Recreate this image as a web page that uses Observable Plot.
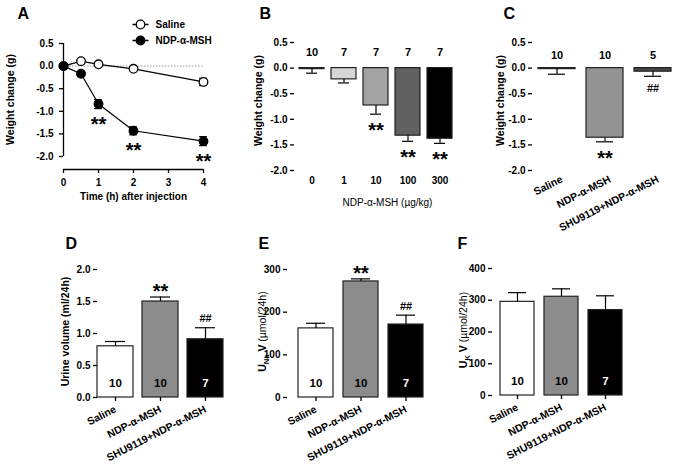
<!DOCTYPE html>
<html><head><meta charset="utf-8">
<script src="https://cdn.jsdelivr.net/npm/d3@7"></script>
<script src="https://cdn.jsdelivr.net/npm/@observablehq/plot@0.6"></script>
<style>
body{margin:0;background:white;}
#fig{position:relative;width:683px;height:474px;overflow:hidden;background:white;}
#fig svg{position:absolute;}
</style></head><body><div id="fig"></div>
<script>
// ---------- Panel A: time course ----------
const timeH = [0, 0.5, 1, 2, 4];
const salineMean = [0, 0.11, 0.04, -0.06, -0.35];
const salineSem = [0.02, 0.02, 0.02, 0.02, 0.08];
const ndpMean = [0, -0.17, -0.84, -1.43, -1.66];
const ndpSem = [0.02, 0.03, 0.10, 0.09, 0.10];
const sigA = ["", "", "**", "**", "**"];
const legendA = ["Saline", "NDP-α-MSH"];
const xTicksA = [0, 1, 2, 3, 4];
const yTicksWeight = [-2, -1.5, -1, -0.5, 0, 0.5];

// ---------- Panel B: dose response ----------
const doseLabels = ["0", "1", "10", "100", "300"];
const doseMean = [-0.02, -0.22, -0.73, -1.32, -1.38];
const doseSem = [0.08, 0.07, 0.17, 0.11, 0.09];
const doseN = [10, 7, 7, 7, 7];
const sigB = ["", "", "**", "**", "**"];

// ---------- Panels C-F: groups ----------
const groups = ["Saline", "NDP-α-MSH", "SHU9119+NDP-α-MSH"];
const weightMeanC = [-0.02, -1.36, -0.07];
const weightSemC = [0.10, 0.08, 0.09];
const nC = [10, 10, 5];
const sigC = ["", "**", "##"];
const urineMean = [0.80, 1.50, 0.91];
const urineSem = [0.075, 0.07, 0.18];
const naMean = [162, 272, 171];
const naSem = [12, 6, 22];
const kMean = [295, 311, 269];
const kSem = [29, 25, 45];
const nDEF = [10, 10, 7];
const sigD = ["", "**", "##"];
const sigE = ["", "**", "##"];
const sigF = ["", "", ""];
const yTicksUrine = [0, 0.5, 1, 1.5, 2];
const yTicksNa = [0, 100, 200, 300];
const yTicksK = [0, 100, 200, 300, 400];

// ---------- styling ----------
const doseFills = ["white", "#d6d6d6", "#a3a3a3", "#616161", "black"];
const fillsC = ["white", "#939393", "#474747"];
const fillsDEF = ["white", "#8c8c8c", "black"];
const FONT = "'Liberation Sans', Arial, Helvetica, sans-serif";
const fig = document.getElementById("fig");

function subscripts(svg) {
  d3.select(svg).selectAll("text").each(function () {
    const m = this.textContent.match(/^(.*?)_\{(.*?)\}([^(]*)(\(.*\))?$/);
    if (!m) return;
    const s = d3.select(this); s.text(null);
    s.append("tspan").text(m[1]);
    s.append("tspan").attr("dy", 3).attr("font-size", 7.5).text(m[2]);
    s.append("tspan").attr("dy", -3).text(m[3]);
    if (m[4]) s.append("tspan").attr("font-weight", "normal").text(m[4]);
  });
}
function panel({box, frame, x, y, marks}) {
  const [bx, by, bw, bh] = box, [fl, fr, ft, fb] = frame;
  const svg = Plot.plot({
    width: bw, height: bh,
    marginLeft: fl - bx, marginRight: bx + bw - fr, marginTop: ft - by, marginBottom: by + bh - fb,
    x, y, marks,
    style: {background: "transparent", fontFamily: FONT, fontSize: "10px", fontWeight: "bold", color: "black", overflow: "visible"}
  });
  svg.style.left = bx + "px"; svg.style.top = by + "px";
  subscripts(svg);
  fig.appendChild(svg);
}
// a free-standing label at an absolute page position (converted to a frame offset)
const at = (frame, ax, ay) => ({frameAnchor: "top-left", dx: ax - frame[0], dy: ay - frame[2]});
const label = (frame, ax, ay, str, opts = {}) =>
  Plot.text([str], {...at(frame, ax, ay), text: d => d, textAnchor: "middle", lineAnchor: "middle", ...opts});
const fmt1 = d => d.toFixed(1);
const textColor = f => d3.hsl(f).l < 0.3 ? "white" : "black";

// ===== Panel A =====
{
  const frame = [63, 203, 43, 169];
  const yMin = yTicksWeight[0], yMax = yTicksWeight.at(-1);
  const yLow = yMin - 13 * (yMax - yMin) / (156 - 43); // x axis sits below -2.0
  const seriesA = timeH.flatMap((t, i) => [
    {group: legendA[0], t, mean: salineMean[i], sem: salineSem[i], sig: ""},
    {group: legendA[1], t, mean: ndpMean[i], sem: ndpSem[i], sig: sigA[i]}
  ]);
  const capW = 0.11;
  const legendSymbol = {draw(ctx, size) {
    const r = Math.sqrt(size / Math.PI);
    ctx.moveTo(-8, 0); ctx.lineTo(-r, 0); ctx.moveTo(r, 0); ctx.lineTo(8, 0);
    ctx.moveTo(r, 0); ctx.arc(0, 0, r, 0, 2 * Math.PI);
  }};
  const fillOf = g => g === legendA[0] ? "white" : "black";
  panel({
    box: [0, 0, 225, 228], frame,
    x: {domain: [xTicksA[0], xTicksA.at(-1)], axis: null},
    y: {domain: [yLow, yMax], axis: null},
    marks: [
      Plot.ruleY([0], {x1: xTicksA[0], x2: xTicksA.at(-1), stroke: "#999", strokeDasharray: "1.5,1.5"}),
      Plot.ruleX([xTicksA[0]], {y1: yMin, y2: yMax, strokeWidth: 1.3}),
      Plot.ruleY([yLow], {x1: xTicksA[0], x2: xTicksA.at(-1), strokeWidth: 1.3}),
      Plot.axisY(yTicksWeight, {tickFormat: fmt1, tickSize: 4, tickPadding: 6, label: null, strokeWidth: 1.3}),
      Plot.ruleX(xTicksA, {x: d => d, y1: yLow, y2: yLow, insetBottom: -4, strokeWidth: 1.3}),
      Plot.text(xTicksA, {x: d => d, y: () => yLow, text: d => `${d}`, lineAnchor: "top", dy: 9}),
      Plot.line(seriesA, {x: "t", y: "mean", z: "group", stroke: "black", strokeWidth: 1.2}),
      Plot.ruleX(seriesA, {x: "t", y1: d => d.mean - d.sem, y2: d => d.mean + d.sem, strokeWidth: 1.2}),
      Plot.ruleY(seriesA, {y: d => d.mean - d.sem, x1: d => d.t - capW, x2: d => d.t + capW, strokeWidth: 1.2}),
      Plot.ruleY(seriesA, {y: d => d.mean + d.sem, x1: d => d.t - capW, x2: d => d.t + capW, strokeWidth: 1.2}),
      Plot.dot(seriesA, {x: "t", y: "mean", r: 4.3, fill: d => fillOf(d.group), stroke: "black", strokeWidth: 1.3}),
      Plot.text(seriesA, {x: "t", y: d => d.mean - d.sem, text: "sig", fontSize: 20, lineAnchor: "middle", dy: 16}),
      ...legendA.flatMap((name, i) => [
        Plot.dot([name], {...at(frame, 140, 24 + 16 * i), symbol: legendSymbol, r: 4.3, fill: fillOf(name), stroke: "black", strokeWidth: 1.3}),
        label(frame, 155, 24 + 16 * i, name, {textAnchor: "start"})
      ]),
      label(frame, 17, 13, "A", {textAnchor: "start", fontSize: 16}),
      label(frame, 10, 99, "Weight change (g)", {rotate: -90, fontSize: 10.5}),
      label(frame, 133, 196, "Time (h) after injection")
    ]
  });
}

// ===== Panel B =====
{
  const frame = [294, 457, 42, 170];
  const yMax = yTicksWeight.at(-1);
  const dataB = doseLabels.map((dose, i) => ({dose, mean: doseMean[i], sem: doseSem[i], n: doseN[i], sig: sigB[i], fill: doseFills[i]}));
  panel({
    box: [225, 0, 235, 228], frame,
    x: {domain: doseLabels, paddingInner: 0.207, paddingOuter: 0.088},
    y: {domain: [yTicksWeight[0], yMax]},
    marks: [
      Plot.barY(dataB, {x: "dose", y: "mean", fill: d => d.fill, stroke: "#222", strokeWidth: 1.2}),
      Plot.ruleX(dataB, {x: "dose", y1: "mean", y2: d => d.mean - d.sem, strokeWidth: 1.2}),
      Plot.tickY(dataB, {x: "dose", y: d => d.mean - d.sem, insetLeft: 7, insetRight: 7, strokeWidth: 1.2}),
      Plot.axisY(yTicksWeight, {tickFormat: fmt1, tickSize: 4, tickPadding: 3, label: null, line: true, strokeWidth: 1.3}),
      Plot.axisX({tickSize: 0, tickPadding: 6, label: null}),
      Plot.text(dataB, {x: "dose", y: () => yMax, text: d => String(d.n), lineAnchor: "middle", dy: 10, fontSize: 11}),
      Plot.text(dataB, {x: "dose", y: d => d.mean - d.sem, text: "sig", fontSize: 20, lineAnchor: "middle", dy: 16}),
      label(frame, 259, 13, "B", {textAnchor: "start", fontSize: 16}),
      label(frame, 258, 100, "Weight change (g)", {rotate: -90, fontSize: 10.5}),
      label(frame, 387, 202, "NDP-α-MSH (µg/kg)", {fontWeight: "normal"})
    ]
  });
}

// ===== Panel C =====
{
  const frame = [532, 677, 42, 170];
  const yMax = yTicksWeight.at(-1);
  const dataC = groups.map((g, i) => ({g, mean: weightMeanC[i], sem: weightSemC[i], n: nC[i], sig: sigC[i], fill: fillsC[i]}));
  panel({
    box: [460, 0, 223, 232], frame,
    x: {domain: groups, paddingInner: 0.23, paddingOuter: 0.105},
    y: {domain: [yTicksWeight[0], yMax]},
    marks: [
      Plot.barY(dataC, {x: "g", y: "mean", fill: d => d.fill, stroke: "#222", strokeWidth: 1.2}),
      Plot.ruleX(dataC, {x: "g", y1: "mean", y2: d => d.mean - d.sem, strokeWidth: 1.2}),
      Plot.tickY(dataC, {x: "g", y: d => d.mean - d.sem, insetLeft: 10, insetRight: 10, strokeWidth: 1.2}),
      Plot.axisY(yTicksWeight, {tickFormat: fmt1, tickSize: 4, tickPadding: 3, label: null, line: true, strokeWidth: 1.3}),
      Plot.axisX({tickSize: 0, tickPadding: 8, tickRotate: -27, label: null, fontSize: 10.5, dx: 5}),
      Plot.text(dataC, {x: "g", y: () => yMax, text: d => String(d.n), lineAnchor: "middle", dy: 13, fontSize: 11}),
      Plot.text(dataC, {x: "g", y: d => d.mean - d.sem, text: "sig", fontSize: 20, lineAnchor: "middle", filter: d => d.sig === "**", dy: 17}),
      Plot.text(dataC, {x: "g", y: d => d.mean - d.sem, text: "sig", fontSize: 11, lineAnchor: "middle", filter: d => d.sig === "##", dy: 12}),
      label(frame, 503, 13, "C", {textAnchor: "start", fontSize: 16}),
      label(frame, 500, 100, "Weight change (g)", {rotate: -90, fontSize: 10.5})
    ]
  });
}

// ===== Panels D, E, F =====
function groupPanel({box, frame, mean, sem, sig, ticks, tickFormat, xOpts, letter, letterX, title, titleX}) {
  const data = groups.map((g, i) => ({g, mean: mean[i], sem: sem[i], n: nDEF[i], sig: sig[i], fill: fillsDEF[i]}));
  panel({
    box, frame,
    x: {domain: groups, ...xOpts},
    y: {domain: [ticks[0], ticks.at(-1)]},
    marks: [
      Plot.barY(data, {x: "g", y: "mean", fill: d => d.fill, stroke: "#222", strokeWidth: 1.2}),
      Plot.ruleX(data, {x: "g", y1: "mean", y2: d => d.mean + d.sem, strokeWidth: 1.2}),
      Plot.tickY(data, {x: "g", y: d => d.mean + d.sem, insetLeft: 8, insetRight: 8, strokeWidth: 1.2}),
      Plot.axisY(ticks, {tickFormat, tickSize: 4, tickPadding: 3, label: null, line: true, strokeWidth: 1.3}),
      Plot.axisX({tickSize: 4, tickPadding: 7, tickRotate: -27, label: null, line: true, strokeWidth: 1.3, fontSize: 10.5}),
      Plot.text(data, {x: "g", y: () => ticks[0], text: d => String(d.n), lineAnchor: "middle", dy: -14, fontSize: 11.5, fill: d => textColor(d.fill)}),
      Plot.text(data, {x: "g", y: d => d.mean + d.sem, text: "sig", fontSize: 20, lineAnchor: "middle", filter: d => d.sig === "**", dy: -5}),
      Plot.text(data, {x: "g", y: d => d.mean + d.sem, text: "sig", fontSize: 11, lineAnchor: "middle", filter: d => d.sig === "##", dy: -9}),
      label(frame, letterX, 243, letter, {textAnchor: "start", fontSize: 16}),
      label(frame, titleX, (frame[2] + frame[3]) / 2 - 2, title, {rotate: -90, fontSize: 10.5})
    ]
  });
}
groupPanel({box: [0, 232, 228, 242], frame: [97, 223, 269, 397], mean: urineMean, sem: urineSem, sig: sigD,
  ticks: yTicksUrine, tickFormat: fmt1, xOpts: {paddingInner: 0.21, paddingOuter: 0},
  letter: "D", letterX: 65, title: "Urine volume (ml/24h)", titleX: 65});
groupPanel({box: [228, 232, 225, 242], frame: [287, 423, 269, 397], mean: naMean, sem: naSem, sig: sigE,
  ticks: yTicksNa, tickFormat: d => String(d), xOpts: {paddingInner: 0.233, paddingOuter: 0.111, align: 1},
  letter: "E", letterX: 258, title: "U_{Na} V (µmol/24h)", titleX: 262});
groupPanel({box: [453, 232, 230, 242], frame: [492, 630, 268, 395], mean: kMean, sem: kSem, sig: sigF,
  ticks: yTicksK, tickFormat: d => String(d), xOpts: {paddingInner: 0.225, paddingOuter: 0.17},
  letter: "F", letterX: 457, title: "U_{K} V (µmol/24h)", titleX: 463});
</script>
</body></html>
